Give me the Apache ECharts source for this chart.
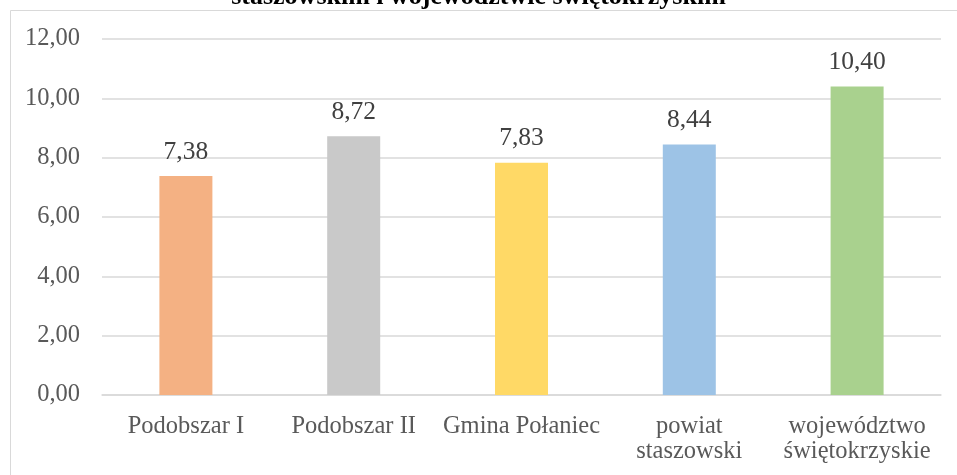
<!DOCTYPE html>
<html>
<head>
<meta charset="utf-8">
<script src="https://cdn.jsdelivr.net/npm/echarts@6/dist/echarts.min.js"></script>
<style>html,body{margin:0;padding:0;background:#fff;}#c{width:957px;height:475px;}</style>
</head>
<body>
<div id="c"></div>
<script>
const titleText = "staszowskim i województwie świętokrzyskim";
const categories = ["Podobszar I", "Podobszar II", "Gmina Połaniec", "powiat\nstaszowski", "województwo\nświętokrzyskie"];
const values = [7.38, 8.72, 7.83, 8.44, 10.40];
const colors = ["#F4B183", "#C9C9C9", "#FFD966", "#9DC3E6", "#A9D18E"];
const yTicks = [0, 2, 4, 6, 8, 10, 12];

const font = "'Liberation Serif', 'Times New Roman', serif";
const chart = echarts.init(document.getElementById('c'), null, {renderer: 'canvas'});
chart.setOption({
  animation: false,
  backgroundColor: '#fff',
  graphic: [{
    type: 'rect', shape: {x: 10.5, y: 10.5, width: 960, height: 480},
    style: {fill: 'none', stroke: '#D9D9D9', lineWidth: 1}, z: -1
  }, {
    type: 'text', left: 'center', top: -16,
    style: {text: titleText, font: "bold 26px 'Liberation Serif', serif", fill: '#000'}
  }],
  grid: {left: 102, right: 16, top: 39, bottom: 80, containLabel: false},
  xAxis: {
    type: 'category', data: categories,
    axisLine: {lineStyle: {color: '#D9D9D9', width: 1.5}},
    axisTick: {show: false},
    axisLabel: {color: '#595959', fontFamily: font, fontSize: 24.5, margin: 19, lineHeight: 25, interval: 0}
  },
  yAxis: {
    type: 'value', min: yTicks[0], max: yTicks[yTicks.length - 1], interval: 2,
    axisLine: {show: false}, axisTick: {show: false},
    splitLine: {lineStyle: {color: '#D9D9D9', width: 1.5}},
    axisLabel: {color: '#595959', fontFamily: font, fontSize: 24.5, margin: 22,
      formatter: v => v.toFixed(2).replace('.', ',')}
  },
  series: [{
    type: 'bar', barWidth: 53,
    data: values.map((v, i) => ({value: v, itemStyle: {color: colors[i]}})),
    label: {show: true, position: 'top', distance: 11, color: '#404040', fontFamily: font, fontSize: 25.5,
      formatter: p => p.value.toFixed(2).replace('.', ',')}
  }]
});
</script>
</body>
</html>
